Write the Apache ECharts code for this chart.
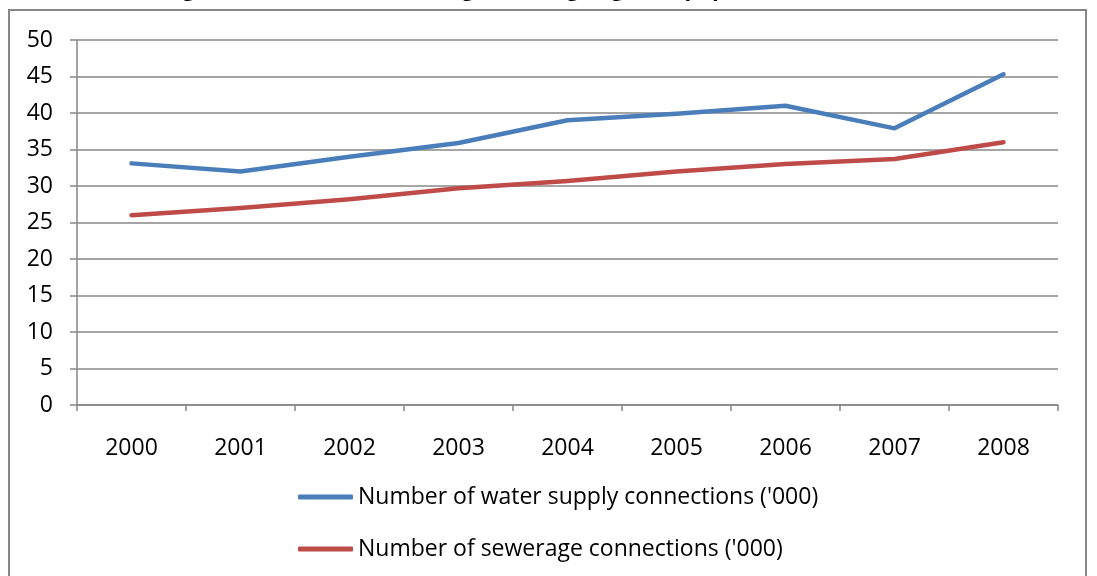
<!DOCTYPE html>
<html>
<head>
<meta charset="utf-8">
<script src="https://cdn.jsdelivr.net/npm/echarts@6/dist/echarts.min.js"></script>
<style>
html, body { margin: 0; padding: 0; background: #fff; }
#chart { width: 1097px; height: 576px; }
</style>
</head>
<body>
<div id="chart"></div>
<script>
// data
let years = ['2000', '2001', '2002', '2003', '2004', '2005', '2006', '2007', '2008'];
let water = [33.1, 32.0, 34.0, 35.9, 39.0, 39.9, 41.0, 37.9, 45.3];
let sewer = [26.0, 27.0, 28.2, 29.7, 30.7, 32.0, 33.0, 33.7, 36.0];
let waterName = "Number of water supply connections ('000)";
let sewerName = "Number of sewerage connections ('000)";

let myChart = echarts.init(document.getElementById('chart'));
let font = 'Open Sans';
let gridColor = '#878787';

let option = {
    animation: false,
    title: {
        text: "Figure 1: Water and sewerage coverage against population (2000-2008)",
        left: 'center',
        top: -26,
        textStyle: { fontFamily: font, fontSize: 22, fontWeight: 'bold', color: '#000' }
    },
    graphic: [{
        type: 'rect',
        shape: { x: 9, y: 10, width: 1077, height: 600 },
        style: { fill: 'none', stroke: gridColor, lineWidth: 2 },
        z: -1
    }],
    grid: { left: 77, right: 39, top: 40, bottom: 171 },
    legend: {
        orient: 'vertical',
        left: 298,
        top: 482,
        padding: 0,
        itemGap: 22,
        itemWidth: 55,
        itemHeight: 5,
        icon: 'roundRect',
        textStyle: { fontFamily: font, fontSize: 23, color: '#000', lineHeight: 30 },
        data: [waterName, sewerName]
    },
    xAxis: {
        type: 'category',
        data: years,
        boundaryGap: true,
        axisLine: { lineStyle: { color: gridColor, width: 1.5 } },
        axisTick: { show: true, length: 6, lineStyle: { color: gridColor, width: 1.5 } },
        axisLabel: { fontFamily: font, fontSize: 23, color: '#000', margin: 32 }
    },
    yAxis: {
        type: 'value',
        min: 0,
        max: 50,
        interval: 5,
        axisLine: { show: true, lineStyle: { color: gridColor, width: 1.5 } },
        axisTick: { show: true, length: 7, lineStyle: { color: gridColor, width: 1.5 } },
        axisLabel: { fontFamily: font, fontSize: 23, color: '#000', margin: 24 },
        splitLine: { lineStyle: { color: gridColor, width: 1.5 } }
    },
    series: [
        {
            name: waterName,
            type: 'line',
            data: water,
            symbol: 'none',
            color: '#4a7ebb',
            lineStyle: { width: 4.5, cap: 'round', join: 'round' }
        },
        {
            name: sewerName,
            type: 'line',
            data: sewer,
            symbol: 'none',
            color: '#be4b48',
            lineStyle: { width: 4.5, cap: 'round', join: 'round' }
        }
    ]
};
myChart.setOption(option);
</script>
</body>
</html>
